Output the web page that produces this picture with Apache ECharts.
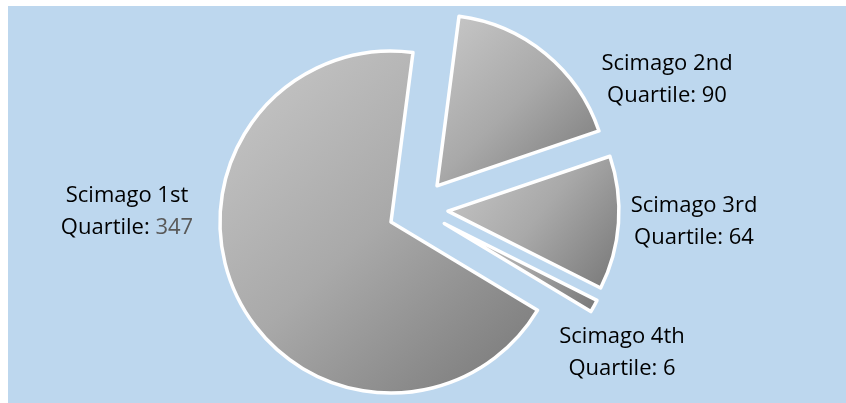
<!DOCTYPE html>
<html>
<head>
<meta charset="utf-8">
<script src="https://cdn.jsdelivr.net/npm/echarts@6/dist/echarts.min.js"></script>
<style>
html,body{margin:0;padding:0;background:#ffffff;}
#chart{width:846px;height:403px;}
</style>
</head>
<body>
<div id="chart"></div>
<script>
// Data
var categories = ['Scimago 1st Quartile', 'Scimago 2nd Quartile', 'Scimago 3rd Quartile', 'Scimago 4th Quartile'];
var values = [347, 90, 64, 6];
var valueColors = ['#595959', '#000000', '#000000', '#000000'];

// Label anchor positions (layout only)
var labelPos = [[127, 212], [667, 80], [694, 222], [622, 353]];

var chart = echarts.init(document.getElementById('chart'), null, {renderer: 'canvas'});

function grad() {
  return new echarts.graphic.LinearGradient(0, 0, 1, 1, [
    {offset: 0, color: '#c9c9c9'},
    {offset: 0.5, color: '#a9a9a9'},
    {offset: 1, color: '#767676'}
  ]);
}

var data = categories.map(function (name, i) {
  return {
    name: name,
    value: values[i],
    selected: true,
    itemStyle: {color: grad()}
  };
});

var labelGraphics = categories.map(function (name, i) {
  var parts = name.split(' Quartile');
  return {
    type: 'text',
    z: 10,
    style: {
      text: '{t|' + parts[0] + '}\n{t|Quartile: }{v|' + values[i] + '}',
      x: labelPos[i][0],
      y: labelPos[i][1],
      align: 'center',
      verticalAlign: 'middle',
      rich: {
        t: {fontFamily: 'Open Sans', fontSize: 22, fill: '#000000', lineHeight: 32},
        v: {fontFamily: 'Open Sans', fontSize: 22, fill: valueColors[i], lineHeight: 32}
      }
    }
  };
});

chart.setOption({
  backgroundColor: '#ffffff',
  animation: false,
  graphic: [{
    type: 'rect',
    z: -10,
    shape: {x: 8, y: 6, width: 838, height: 397},
    style: {fill: '#BDD7EE'}
  }].concat(labelGraphics),
  series: [{
    type: 'pie',
    center: [418, 209],
    radius: [0, 171],
    startAngle: -31,
    clockwise: true,
    selectedMode: 'multiple',
    selectedOffset: 30,
    emphasis: {disabled: true},
    itemStyle: {borderColor: '#ffffff', borderWidth: 3.5},
    label: {show: false},
    labelLine: {show: false},
    data: data
  }]
});
</script>
</body>
</html>
